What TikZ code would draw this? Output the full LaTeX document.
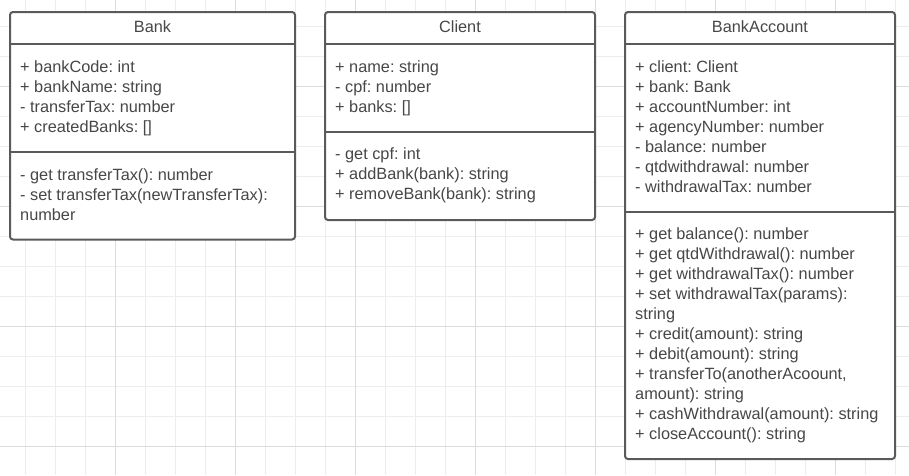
\documentclass[tikz,border=0pt]{standalone}
\usepackage{fontspec}
\setmainfont{Liberation Sans}
\frenchspacing
\definecolor{gridminor}{HTML}{EDEDED}
\definecolor{gridmajor}{HTML}{DCDCDC}
\definecolor{boxline}{HTML}{5A5A5A}
\definecolor{txtcol}{HTML}{474747}
\tikzset{
  classbox/.style={draw=boxline, line width=2pt, fill=white, rounded corners=3pt},
  divider/.style={draw=boxline, line width=2pt},
  txt/.style={anchor=base west, inner sep=0pt, text=txtcol, font=\fontsize{16.3pt}{20pt}\selectfont},
  ttl/.style={anchor=base, inner sep=0pt, text=txtcol, font=\fontsize{16.3pt}{20pt}\selectfont},
}
\begin{document}
\frenchspacing
\begin{tikzpicture}[x=1pt,y=-1pt]
\useasboundingbox (0,0) rectangle (909,475);
\fill[white] (0,0) rectangle (909,475);
% grid
\begin{scope}
\clip (0,0) rectangle (909,475);
\foreach \k in {0,...,29} \draw[gridminor, line width=1pt] (25+30*\k,0) -- (25+30*\k,475);
\foreach \k in {0,...,15} \draw[gridminor, line width=1pt] (0,26+30*\k) -- (909,26+30*\k);
\foreach \k in {0,...,6} \draw[gridmajor, line width=1pt] (115+120*\k,0) -- (115+120*\k,475);
\foreach \k in {0,...,3} \draw[gridmajor, line width=1pt] (0,86+120*\k) -- (909,86+120*\k);
\end{scope}

% Bank
\draw[classbox] (10,12) rectangle (295,239.5);
\draw[divider] (10,43.5) -- (295,43.5);
\draw[divider] (10,152.3) -- (295,152.3);
\node[ttl] (bankT) at (152.5,32) {Bank};
\foreach \t [count=\i] in {{+ bankCode: int},{+ bankName: string},{- transferTax: number},{+ createdBanks: []}}
  \node[txt] (bankA\i) at (20,52+20*\i) {\t};
\foreach \t [count=\i] in {{- get transferTax(): number},{- set transferTax(newTransferTax):},{number}}
  \node[txt] (bankM\i) at (20,160+20*\i) {\t};

% Client
\draw[classbox] (325,12) rectangle (595,220);
\draw[divider] (325,43.5) -- (595,43.5);
\draw[divider] (325,131.7) -- (595,131.7);
\node[ttl] (clientT) at (460,32) {Client};
\foreach \t [count=\i] in {{+ name: string},{- cpf: number},{+ banks: []}}
  \node[txt] (clientA\i) at (335,52+20*\i) {\t};
\foreach \t [count=\i] in {{- get cpf: int},{+ addBank(bank): string},{+ removeBank(bank): string}}
  \node[txt] (clientM\i) at (335,139.3+20*\i) {\t};

% BankAccount
\draw[classbox] (625,12) rectangle (895,459);
\draw[divider] (625,43.5) -- (895,43.5);
\draw[divider] (625,211.8) -- (895,211.8);
\node[ttl] (accT) at (760,32) {BankAccount};
\foreach \t [count=\i] in {{+ client: Client},{+ bank: Bank},{+ accountNumber: int},{+ agencyNumber: number},{- balance: number},{- qtdwithdrawal: number},{- withdrawalTax: number}}
  \node[txt] (accA\i) at (635,52+20*\i) {\t};
\foreach \t [count=\i] in {{+ get balance(): number},{+ get qtdWithdrawal(): number},{+ get withdrawalTax(): number},{+ set withdrawalTax(params):},{string},{+ credit(amount): string},{+ debit(amount): string},{+ transferTo(anotherAcoount,},{amount): string},{+ cashWithdrawal(amount): string},{+ closeAccount(): string}}
  \node[txt] (accM\i) at (635,219.3+20*\i) {\t};
\end{tikzpicture}
\end{document}
